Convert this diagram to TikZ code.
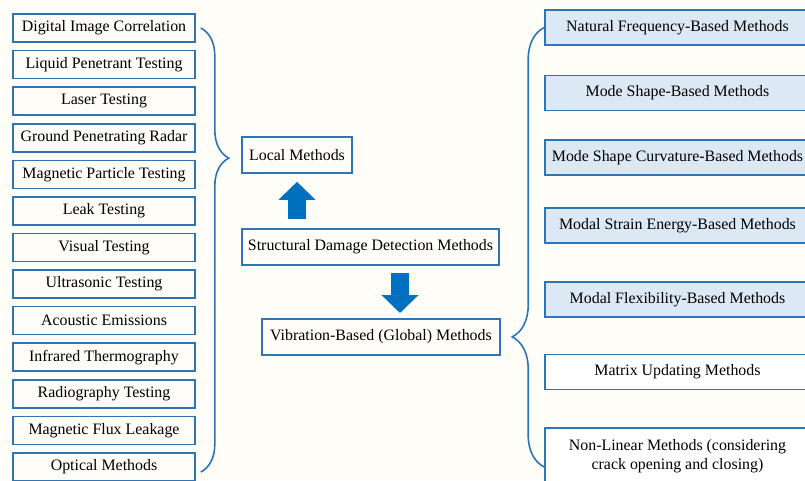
\documentclass[tikz,border=0pt]{standalone}
\usepackage{fontspec}
\setmainfont{Liberation Serif}
\usepackage{tikz}
\usetikzlibrary{decorations.pathreplacing,arrows.meta}

\definecolor{boxblue}{RGB}{46,117,182}
\definecolor{fillblue}{RGB}{221,232,245}
\definecolor{arrowblue}{RGB}{0,112,192}
\definecolor{paper}{RGB}{255,253,248}

\tikzset{
  method/.style={draw=boxblue, line width=1.6pt, inner sep=0pt, align=center,
    font=\rmfamily\fontsize{15.9}{19}\selectfont},
  ndtbox/.style={method, minimum width=182pt, minimum height=28pt},
  vibbox/.style={method, fill=fillblue, minimum width=265pt, minimum height=35pt},
  plainbox/.style={method, fill=white, minimum width=265pt, minimum height=35pt},
  curly/.style={draw=boxblue, line width=1.6pt, decorate},
  bigarrow/.style={draw=arrowblue, line width=18pt,
    -{Triangle[width=36pt,length=18pt]}}
}

\begin{document}
\begin{tikzpicture}[x=1pt,y=-1pt]

\clip (0,0) rectangle (805,480);
\fill[paper] (0,0) rectangle (805,480);

%Drawing middle boxes
\node[method, minimum width=110pt, minimum height=36pt] (local) at (297,155) {Local Methods};
\node[method, minimum width=257pt, minimum height=36pt] (sddm) at (370.5,247) {Structural Damage Detection Methods};
\node[method, minimum width=238pt, minimum height=36pt] (vib) at (381,337) {Vibration-Based (Global) Methods};

%Drawing local methods
\node[ndtbox] (dic) at (104,28) {Digital Image Correlation};
\node[ndtbox] (lpt) at (104,64.6) {Liquid Penetrant Testing};
\node[ndtbox] (lt) at (104,101.2) {Laser Testing};
\node[ndtbox] (gpr) at (104,137.7) {Ground Penetrating Radar};
\node[ndtbox] (mpt) at (104,174.3) {Magnetic Particle Testing};
\node[ndtbox] (leak) at (104,210.9) {Leak Testing};
\node[ndtbox] (vt) at (104,247.5) {Visual Testing};
\node[ndtbox] (ut) at (104,284.1) {Ultrasonic Testing};
\node[ndtbox] (ae) at (104,320.6) {Acoustic Emissions};
\node[ndtbox] (irt) at (104,357.2) {Infrared Thermography};
\node[ndtbox] (rt) at (104,393.8) {Radiography Testing};
\node[ndtbox] (mfl) at (104,430.4) {Magnetic Flux Leakage};
\node[ndtbox] (opt) at (104,467) {Optical Methods};

%Drawing vibration-based methods
\node[vibbox] (nfb) at (677.5,27.5) {Natural Frequency-Based Methods};
\node[vibbox] (msb) at (677.5,93) {Mode Shape-Based Methods};
\node[vibbox] (mscb) at (677.5,157.5) {Mode Shape Curvature-Based Methods};
\node[vibbox] (mseb) at (677.5,225.5) {Modal Strain Energy-Based Methods};
\node[vibbox] (mfb) at (677.5,299.5) {Modal Flexibility-Based Methods};
\node[plainbox] (mum) at (677.5,372) {Matrix Updating Methods};
\node[plainbox, minimum height=56pt] (nlm) at (677.5,456) {Non-Linear Methods (considering\\crack opening and closing)};

%connecting them
\draw[bigarrow, shorten <=9pt, shorten >=8pt] (local |- sddm.north) -- (local.south);
\draw[bigarrow, shorten <=8pt, shorten >=6pt] (400,265) -- (400,319);

%braces
\draw[curly, decoration={brace, amplitude=28pt, aspect=0.293}] ([xshift=5pt]dic.east) -- ([xshift=5pt,yshift=-5pt]opt.east);
\draw[curly, decoration={brace, amplitude=32pt, aspect=0.296}] (nlm.west |- 0,467) -- (nfb.west);

\end{tikzpicture}
\end{document}
